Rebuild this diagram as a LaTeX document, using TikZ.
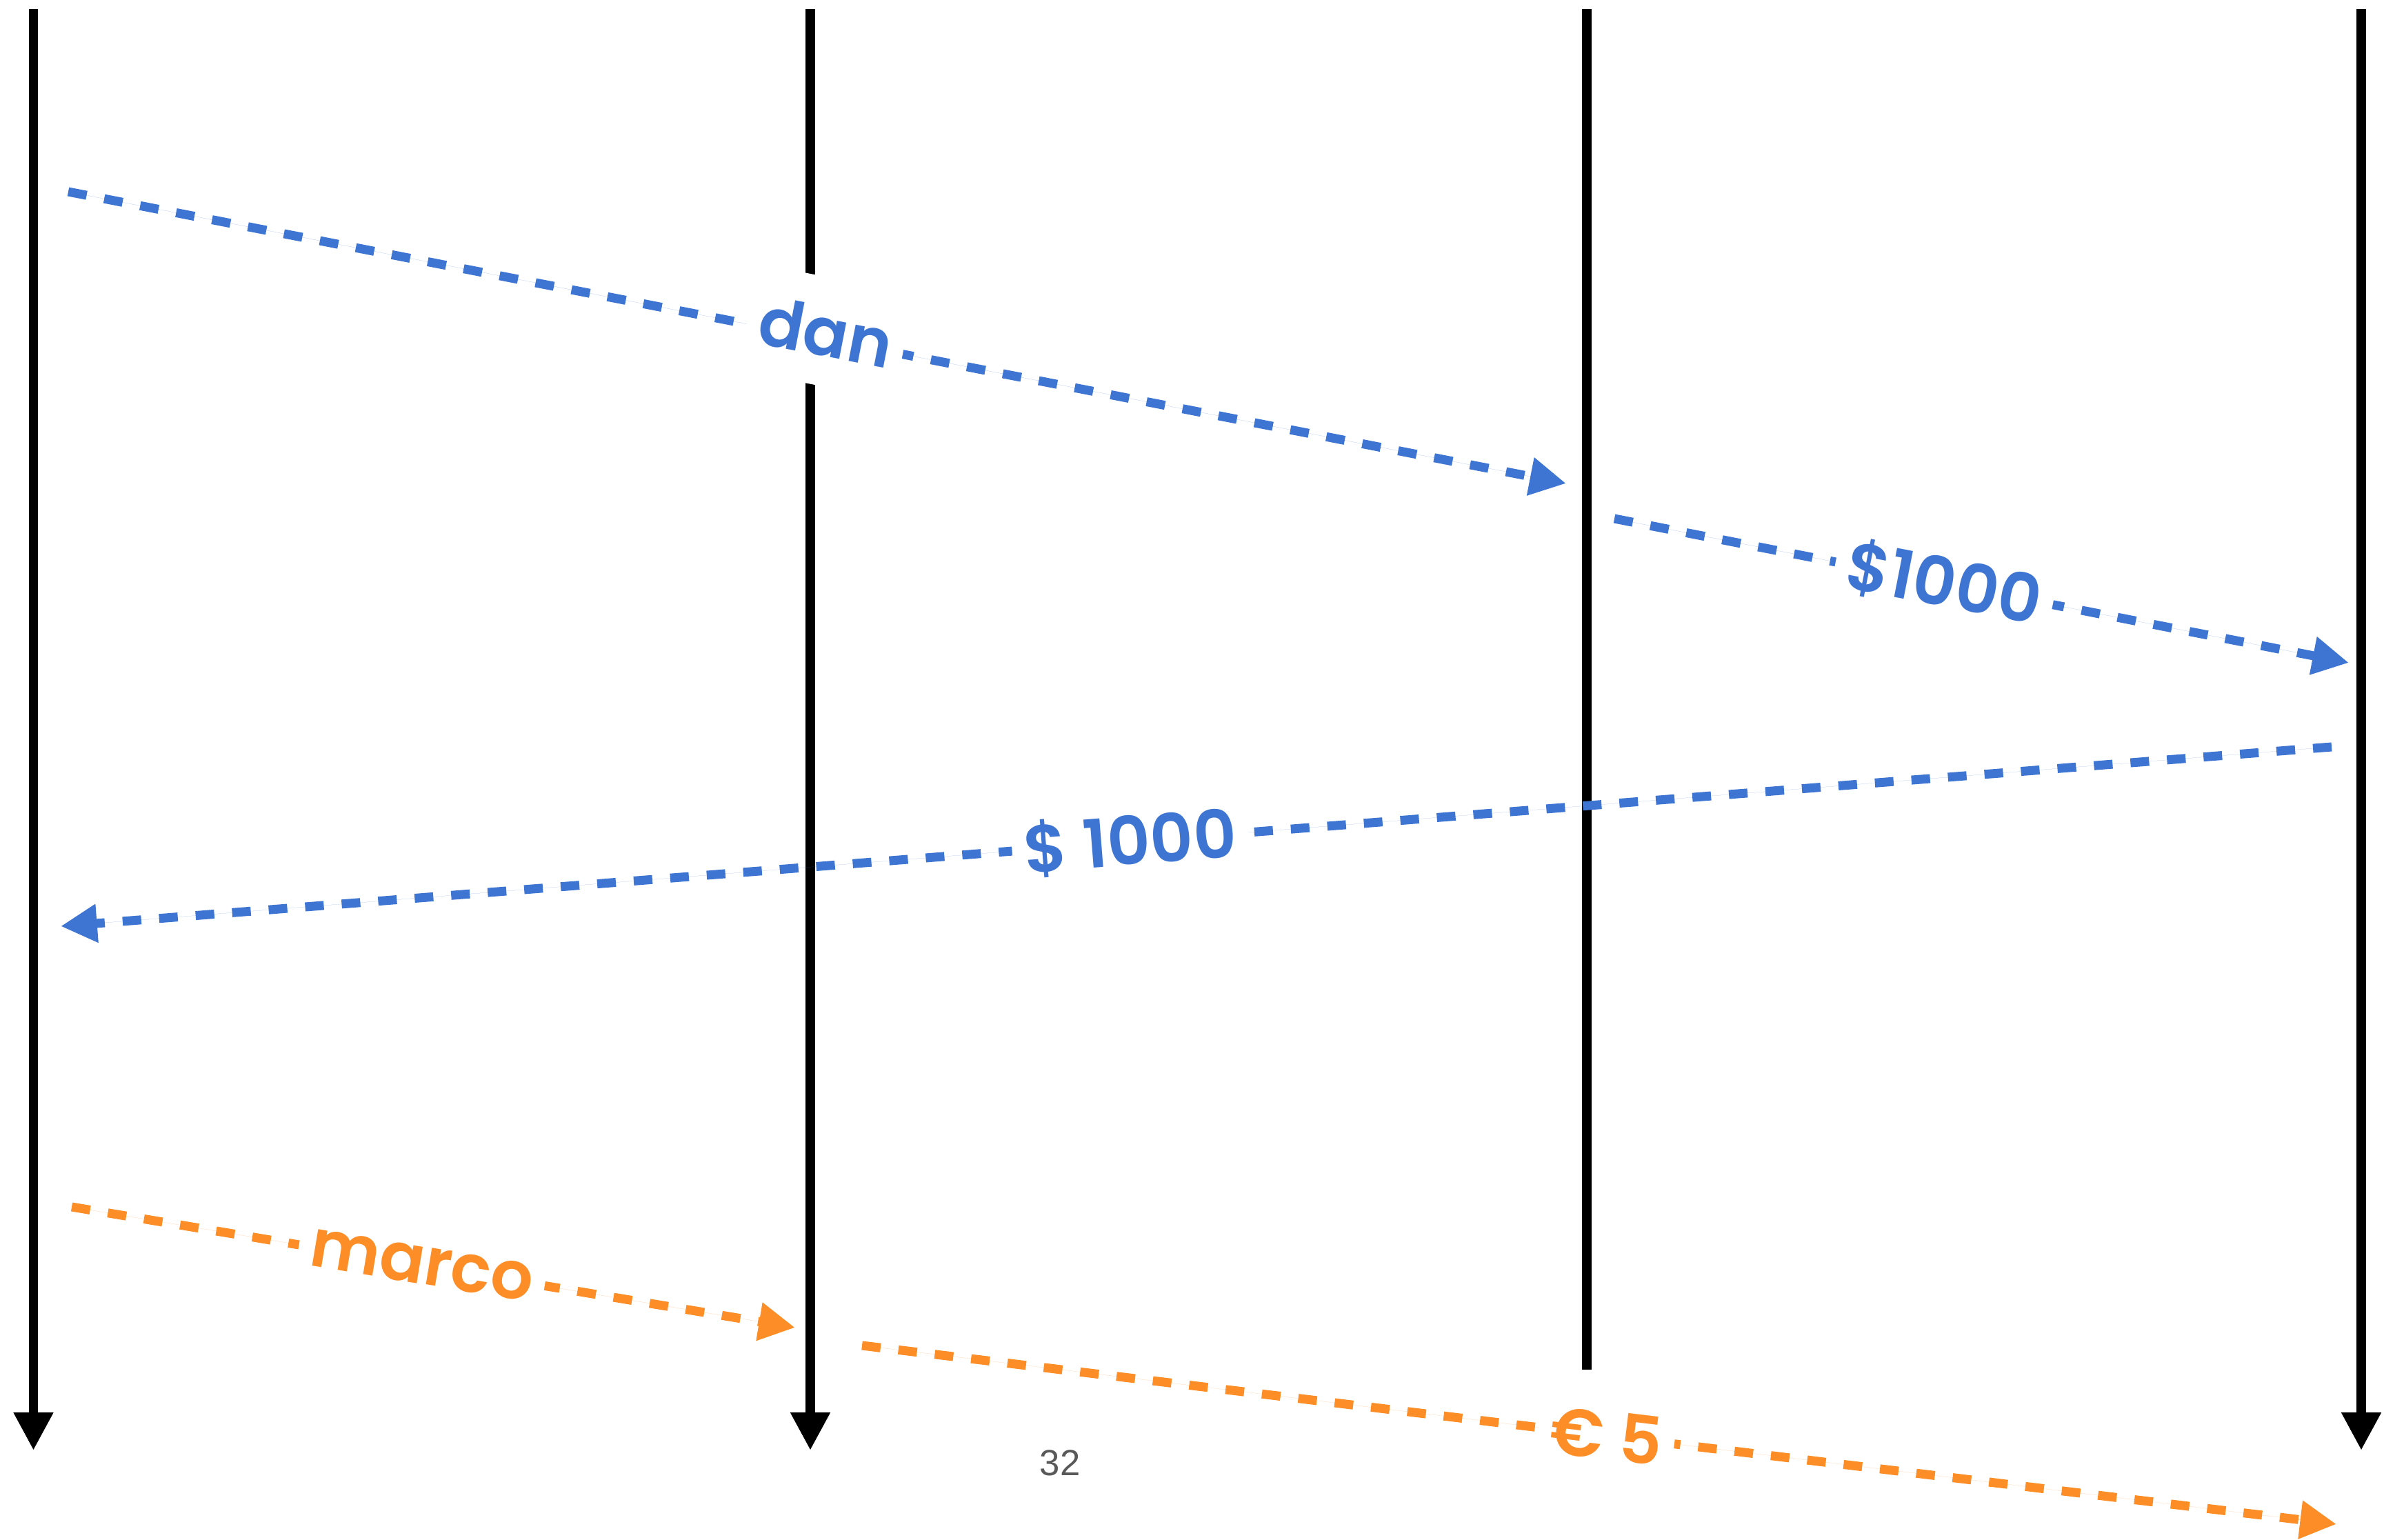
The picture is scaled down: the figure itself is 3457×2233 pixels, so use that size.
\documentclass[tikz,border=0pt]{standalone}
\usepackage{fontspec}
\setmainfont{Liberation Sans}
\newfontfamily\labfont{Poppins SemiBold}
\usetikzlibrary{arrows.meta}
\definecolor{myblue}{HTML}{3E75D3}
\definecolor{myorange}{HTML}{FD8D26}
\definecolor{pagegray}{HTML}{595959}
\begin{document}
\begin{tikzpicture}[x=0.01cm,y=-0.01cm,
  life/.style={line width=3.8pt, draw=black},
  lifearrow/.style={life, -{Triangle[length=15.6pt,width=15.4pt]}},
  msg/.style={line width=3.7pt, dash pattern=on 7.7pt off 7.4pt, -{Triangle[length=15pt,width=15pt]}},
  bluemsg/.style={msg, draw=myblue, fill=myblue},
  orangemsg/.style={msg, draw=myorange, fill=myorange},
  lab/.style={fill=white, inner xsep=5pt, inner ysep=8pt, sloped, font=\labfont\fontsize{27.5}{28}\selectfont},
  bluelab/.style={lab, text=myblue},
  orangelab/.style={lab, text=myorange}]
\useasboundingbox (0,0) rectangle (3457,2233);
% lifelines
\coordinate (t1) at (48.5,13);  \coordinate (e1b) at (48.5,2103);
\coordinate (t2) at (1175,13);  \coordinate (e2b) at (1175,2103);
\coordinate (t3) at (2301,13);  \coordinate (e3b) at (2301,1986);
\coordinate (t4) at (3424,13);  \coordinate (e4b) at (3424,2103);
\draw[lifearrow] (t1) -- (e1b);
\draw[lifearrow] (t2) -- (e2b);
\draw[life] (t3) -- (e3b);
\draw[lifearrow] (t4) -- (e4b);
% message ends
\coordinate (a1) at (99,278);   \coordinate (a2) at (2271,701);
\coordinate (b1) at (2341,752); \coordinate (b2) at (3406,961);
\coordinate (c1) at (3381,1083);\coordinate (c2) at (88,1343);
\coordinate (d1) at (104,1750); \coordinate (d2) at (1153,1925);
\coordinate (f1) at (1250,1951);\coordinate (f2) at (3388,2210);
\draw[bluemsg] (a1) -- node[bluelab, pos=0.505, inner ysep=12pt, yshift=3pt] (ldan) {dan} (a2);
\draw[bluemsg] (b1) -- node[bluelab, pos=0.449] (lb) {\$1000} (b2);
\draw[bluemsg] (c1) -- node[bluelab, pos=0.529] (lc) {\$ 1000} (c2);
\draw[orangemsg] (d1) -- node[orangelab, pos=0.484] (lmarco) {marco} (d2);
\draw[orangemsg] (f1) -- node[orangelab, pos=0.505] (leuro) {€ 5} (f2);
\node[text=pagegray, font=\fontsize{15}{15}\selectfont] (pg) at (1537,2121) {32};
\end{tikzpicture}
\end{document}
